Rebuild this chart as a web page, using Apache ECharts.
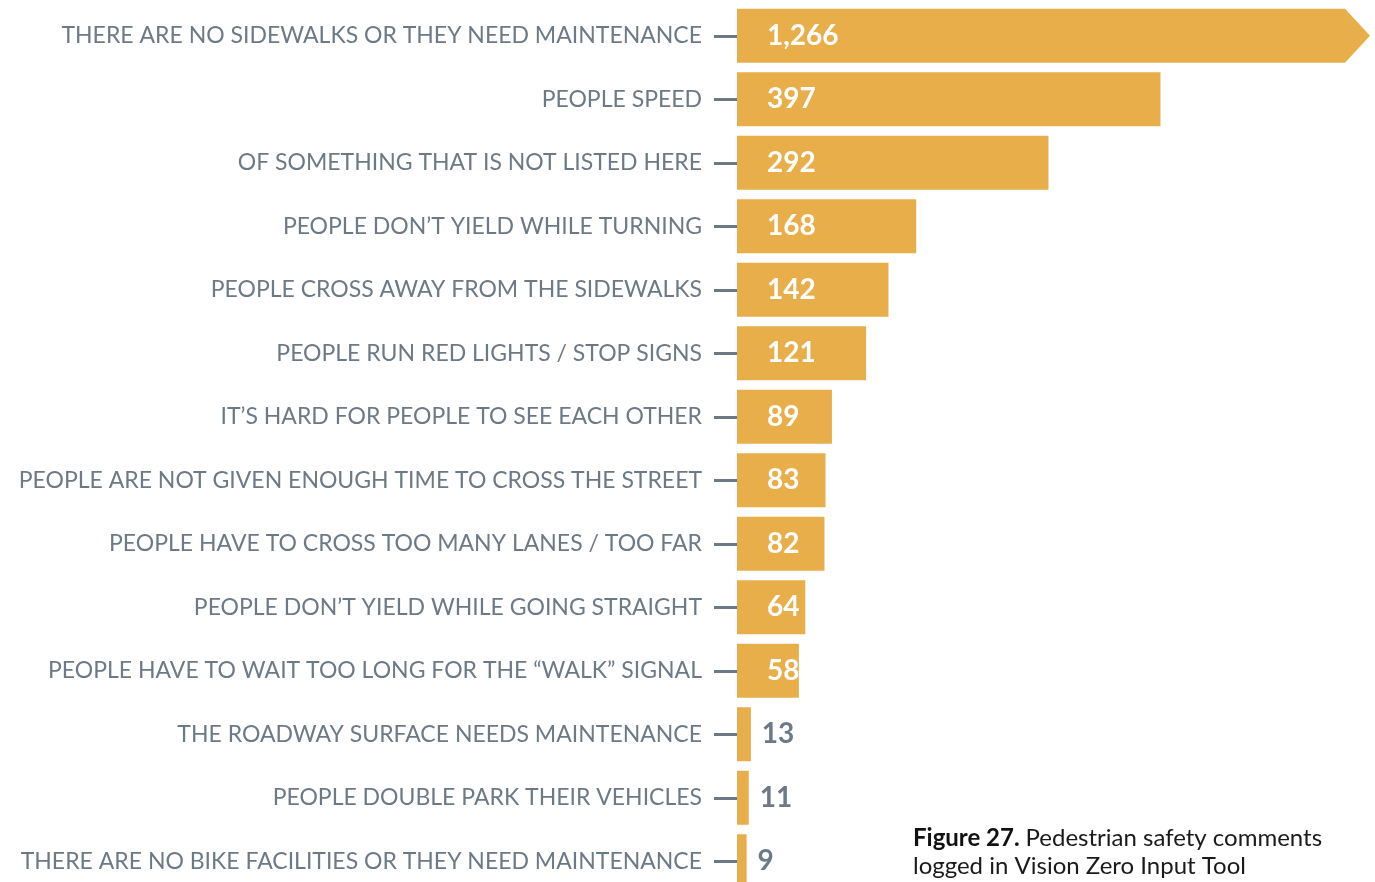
<!DOCTYPE html>
<html>
<head>
<meta charset="utf-8">
<script src="https://cdn.jsdelivr.net/npm/echarts@6/dist/echarts.min.js"></script>
<style>
  html, body { margin: 0; padding: 0; background: #ffffff; overflow: hidden; }
  /* the last row runs slightly past the bottom edge of the page */
  #chart { width: 1375px; height: 893px; }
</style>
</head>
<body>
<div id="chart"></div>
<script>
// Pedestrian safety comments, by reason (top to bottom)
const categories = [
  'THERE ARE NO SIDEWALKS OR THEY NEED MAINTENANCE',
  'PEOPLE SPEED',
  'OF SOMETHING THAT IS NOT LISTED HERE',
  'PEOPLE DON\u2019T YIELD WHILE TURNING',
  'PEOPLE CROSS AWAY FROM THE SIDEWALKS',
  'PEOPLE RUN RED LIGHTS / STOP SIGNS',
  'IT\u2019S HARD FOR PEOPLE TO SEE EACH OTHER',
  'PEOPLE ARE NOT GIVEN ENOUGH TIME TO CROSS THE STREET',
  'PEOPLE HAVE TO CROSS TOO MANY LANES / TOO FAR',
  'PEOPLE DON\u2019T YIELD WHILE GOING STRAIGHT',
  'PEOPLE HAVE TO WAIT TOO LONG FOR THE \u201CWALK\u201D SIGNAL',
  'THE ROADWAY SURFACE NEEDS MAINTENANCE',
  'PEOPLE DOUBLE PARK THEIR VEHICLES',
  'THERE ARE NO BIKE FACILITIES OR THEY NEED MAINTENANCE'
];
const comments = [1266, 397, 292, 168, 142, 121, 89, 83, 82, 64, 58, 13, 11, 9];

// The axis stops short of the largest count; that bar is cut off and capped with an arrow.
const AXIS_MAX = 570;
const INSIDE_MIN = 40; // counts at or above this get their label inside the bar

const GOLD = '#E8AE4A';
const SLATE = '#6C7A88';
const FONT = 'Lato, "Open Sans", sans-serif';

const barData = comments.map(v => ({
  value: v,
  label: v >= INSIDE_MIN
    ? { position: 'insideLeft', distance: 30, color: '#ffffff' }
    : { position: 'right', distance: 11, color: SLATE }
}));

const chart = echarts.init(document.getElementById('chart'));
chart.setOption({
  animation: false,
  backgroundColor: '#ffffff',
  grid: { left: 737, right: 30, top: 4, bottom: 0, containLabel: false },
  title: {
    left: 913,
    top: 824,
    padding: 0,
    text: '{b|Figure 27.} {n|Pedestrian safety comments}\n{n|logged in Vision Zero Input Tool}',
    textStyle: {
      fontFamily: FONT,
      fontSize: 24,
      lineHeight: 28,
      rich: {
        b: { fontFamily: FONT, fontSize: 24, fontWeight: 'bold', color: '#111111', lineHeight: 28 },
        n: { fontFamily: FONT, fontSize: 24, fontWeight: 'normal', color: '#1a1a1a', lineHeight: 28 }
      }
    }
  },
  xAxis: {
    type: 'value',
    min: 0,
    max: AXIS_MAX,
    show: false,
    splitLine: { show: false }
  },
  yAxis: {
    type: 'category',
    inverse: true,
    data: categories,
    axisLine: { show: false },
    axisTick: {
      show: true,
      alignWithLabel: true,
      length: 23,
      lineStyle: { color: SLATE, width: 3 }
    },
    axisLabel: {
      margin: 35,
      color: SLATE,
      fontFamily: FONT,
      fontSize: 23
    }
  },
  series: [{
    type: 'bar',
    data: barData,
    barWidth: 54,
    itemStyle: { color: GOLD },
    label: {
      show: true,
      fontFamily: FONT,
      fontSize: 28,
      fontWeight: 'bold',
      formatter: p => p.value.toLocaleString('en-US')
    },
    markPoint: {
      silent: true,
      label: { show: false },
      itemStyle: { color: GOLD },
      data: [{
        coord: [AXIS_MAX, categories[0]],
        symbol: 'triangle',
        symbolRotate: -90,
        symbolSize: [54, 25],
        symbolOffset: [12.5, 0]
      }]
    }
  }]
});
</script>
</body>
</html>
